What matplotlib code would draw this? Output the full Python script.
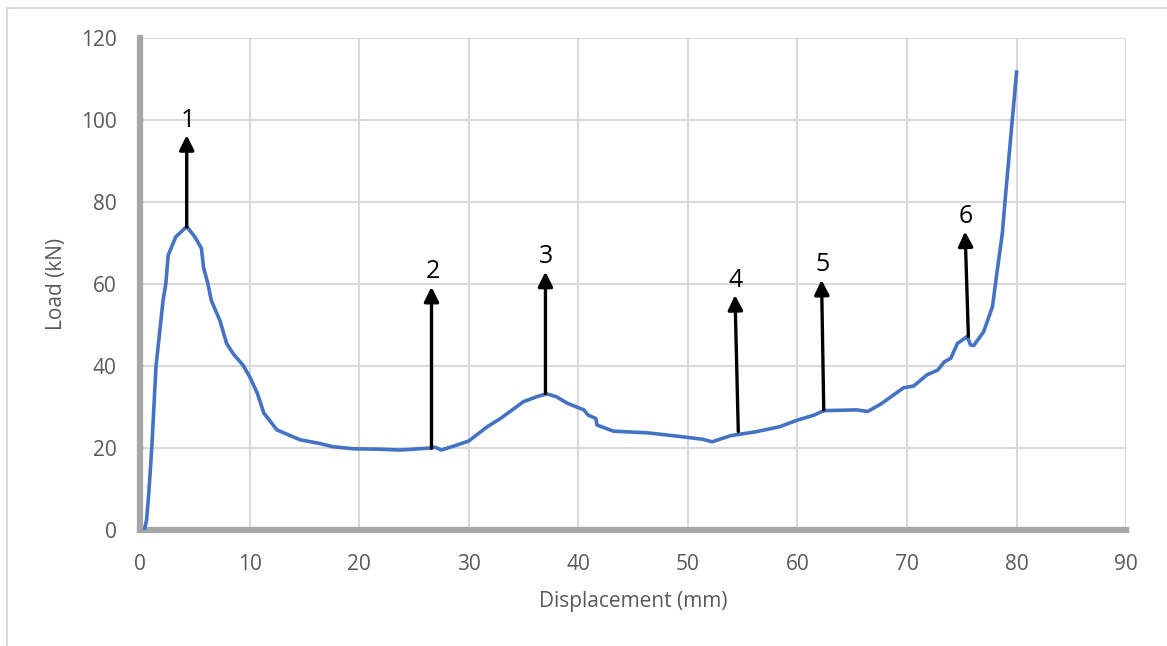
import matplotlib.pyplot as plt
from matplotlib.lines import Line2D

# curve
disp = [0.4, 0.6, 0.8, 1.07, 1.46, 2.1, 2.35, 2.57, 3.26, 4.26, 5.0, 5.6, 5.8, 6.2, 6.5,
        7.3, 7.9, 8.5, 9.4, 10.0, 10.7, 11.3, 12.5, 14.6, 16.4, 17.6, 19.5, 21.9, 23.7,
        24.9, 26.5, 26.9, 27.5, 28.9, 30.0, 31.7, 32.9, 35.0, 36.2, 37.1, 38.0, 39.0,
        40.5, 40.9, 41.6, 41.7, 43.2, 46.3, 49.3, 51.4, 52.2, 53.9, 56.3, 58.4, 60.0,
        61.5, 62.4, 65.4, 66.4, 67.6, 69.7, 70.6, 71.8, 72.8, 73.4, 74.0, 74.6, 75.5,
        75.8, 76.1, 77.0, 77.8, 78.2, 78.7, 79.0, 80.0]
load = [0.0, 2.5, 9.0, 20.0, 40.0, 56.0, 60.0, 67.0, 71.5, 74.0, 71.5, 68.7, 64.0, 60.0, 56.0,
        51.0, 45.5, 43.0, 40.2, 37.4, 33.4, 28.5, 24.4, 22.0, 21.1, 20.3, 19.8, 19.7, 19.5,
        19.7, 20.0, 20.2, 19.5, 20.7, 21.7, 25.2, 27.2, 31.3, 32.5, 33.2, 32.5, 30.9,
        29.3, 28.0, 27.2, 25.6, 24.1, 23.7, 22.8, 22.1, 21.5, 23.0, 24.0, 25.2, 26.8,
        28.0, 29.1, 29.3, 28.9, 30.7, 34.7, 35.1, 37.8, 39.0, 41.0, 41.9, 45.5, 47.2,
        45.1, 45.0, 48.4, 54.5, 62.6, 72.4, 81.9, 111.7]

# arrows: label, tail x, tail y, tip x, tip y
arrow_labels = ["1", "2", "3", "4", "5", "6"]
tail_x = [4.26, 26.6, 37.0, 54.6, 62.4, 75.6]
tail_y = [73.9, 19.9, 33.3, 24.0, 29.3, 47.2]
tip_x = [4.26, 26.6, 37.0, 54.3, 62.2, 75.3]
tip_y = [96.3, 59.3, 63.0, 57.3, 61.0, 72.8]

fig = plt.figure(figsize=(11.67, 6.46), dpi=100)
ax = fig.add_axes([0.12, 0.1796, 0.845, 0.7616])

ax.plot(disp, load, color="#4472C4", lw=2.6, zorder=3, solid_joinstyle="round")

for lab, x0, y0, x1, y1 in zip(arrow_labels, tail_x, tail_y, tip_x, tip_y):
    ax.annotate("", xy=(x1, y1), xytext=(x0, y0),
                arrowprops=dict(arrowstyle="-|>", color="black", lw=2.4,
                                mutation_scale=22, shrinkA=0, shrinkB=0),
                zorder=4)
    ax.text(x1 + 0.1, y1 + 0.6, lab, ha="center", va="bottom", fontsize=18,
            family="Open Sans", color="black", zorder=5)

ax.set_xlim(0, 90)
ax.set_ylim(0, 120)
ax.set_xticks(range(0, 91, 10))
ax.set_yticks(range(0, 121, 20))
ax.grid(True, color="#d9d9d9", lw=1.5)
ax.set_axisbelow(True)

for side in ["top", "right"]:
    ax.spines[side].set_visible(False)
for side in ["left", "bottom"]:
    ax.spines[side].set_color("#a6a6a6")
    ax.spines[side].set_linewidth(4.5)

ax.tick_params(length=0, labelsize=15, labelcolor="#595959", pad=17)
for t in ax.get_xticklabels() + ax.get_yticklabels():
    t.set_family("Open Sans")

ax.set_xlabel("Displacement (mm)", fontsize=15, color="#595959", family="Open Sans", labelpad=12)
ax.set_ylabel("Load (kN)", fontsize=15, color="#595959", family="Open Sans", labelpad=10)

# chart area border (only left and top visible in the crop)
bx = 7 / 1167
by = 1 - 8 / 646
fig.add_artist(Line2D([bx, bx, 1], [0, by, by], transform=fig.transFigure,
                      color="#d9d9d9", lw=1.5))

fig.savefig("out.png", dpi=100)
